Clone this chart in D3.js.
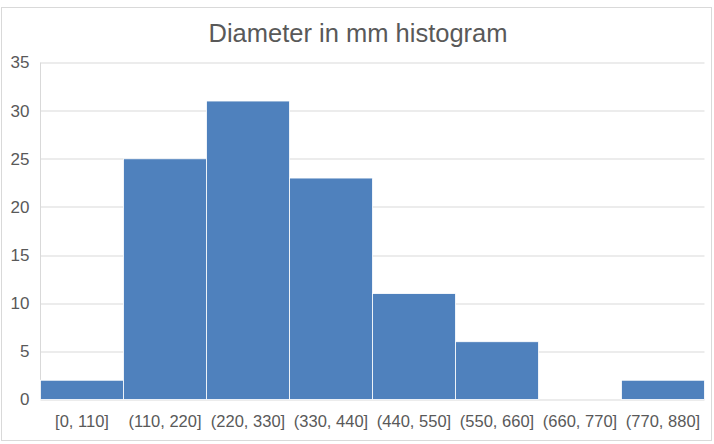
<!DOCTYPE html>
<html>
<head>
<meta charset="utf-8">
<script src="https://cdn.jsdelivr.net/npm/d3@7"></script>
<style>
  html, body { margin: 0; padding: 0; background: #fff; }
  svg { display: block; font-family: "Liberation Sans", Arial, sans-serif; }
</style>
</head>
<body>
<svg id="chart" width="714" height="444"></svg>
<script>
// Histogram bins of diameter (mm) and their counts
const bins = ["[0, 110]", "(110, 220]", "(220, 330]", "(330, 440]", "(440, 550]", "(550, 660]", "(660, 770]", "(770, 880]"];
const counts = [2, 25, 31, 23, 11, 6, 0, 2];
const yTicks = [0, 5, 10, 15, 20, 25, 30, 35];
const title = "Diameter in mm histogram";

const svg = d3.select("#chart");
const W = 714, H = 444;
const margin = { top: 62.5, right: 9.5, bottom: 44, left: 40.5 };
const plotW = W - margin.left - margin.right;
const plotH = 399.5 - margin.top;
const textColor = "#595959";

// Chart frame
svg.append("rect")
  .attr("x", 1.5).attr("y", 7.5)
  .attr("width", 710).attr("height", 433)
  .attr("fill", "#fff").attr("stroke", "#d9d9d9").attr("stroke-width", 1);

svg.append("text")
  .attr("x", 358).attr("y", 42)
  .attr("text-anchor", "middle")
  .attr("font-size", 25.5)
  .attr("fill", textColor)
  .text(title);

const g = svg.append("g").attr("transform", `translate(${margin.left},${margin.top})`);

const x = d3.scaleBand().domain(bins).range([0, plotW]).paddingInner(0).paddingOuter(0);
const y = d3.scaleLinear().domain([0, 35]).range([plotH, 0]);

// Horizontal gridlines
g.append("g")
  .selectAll("line")
  .data(yTicks)
  .join("line")
  .attr("x1", 0).attr("x2", plotW)
  .attr("y1", d => Math.round(y(d)) + 0.5).attr("y2", d => Math.round(y(d)) + 0.5)
  .attr("stroke", "#d9d9d9").attr("stroke-width", 1);

// Left edge of plot area
g.append("line")
  .attr("x1", 0).attr("x2", 0)
  .attr("y1", 0).attr("y2", plotH)
  .attr("stroke", "#d9d9d9");

// Y axis labels
const yAxis = d3.axisLeft(y).tickValues(yTicks).tickSize(0).tickPadding(11);
const ya = g.append("g").call(yAxis);
ya.select(".domain").remove();
ya.selectAll("text").attr("font-size", 17).attr("fill", textColor).attr("font-family", "Liberation Sans, Arial, sans-serif");

// Bars
g.append("g")
  .selectAll("rect")
  .data(counts)
  .join("rect")
  .attr("x", (d, i) => x(bins[i]))
  .attr("y", d => y(d))
  .attr("width", x.bandwidth())
  .attr("height", d => plotH - y(d))
  .attr("fill", "#4f81bd")
  .attr("stroke", "#ffffff")
  .attr("stroke-width", d => d > 0 ? 0.8 : 0);

// X axis labels
const xAxis = d3.axisBottom(x).tickSize(0).tickPadding(16);
const xa = g.append("g").attr("transform", `translate(0,${plotH})`).call(xAxis);
xa.select(".domain").remove();
xa.selectAll("text").attr("font-size", 16.5).attr("fill", textColor).attr("font-family", "Liberation Sans, Arial, sans-serif");
</script>
</body>
</html>
